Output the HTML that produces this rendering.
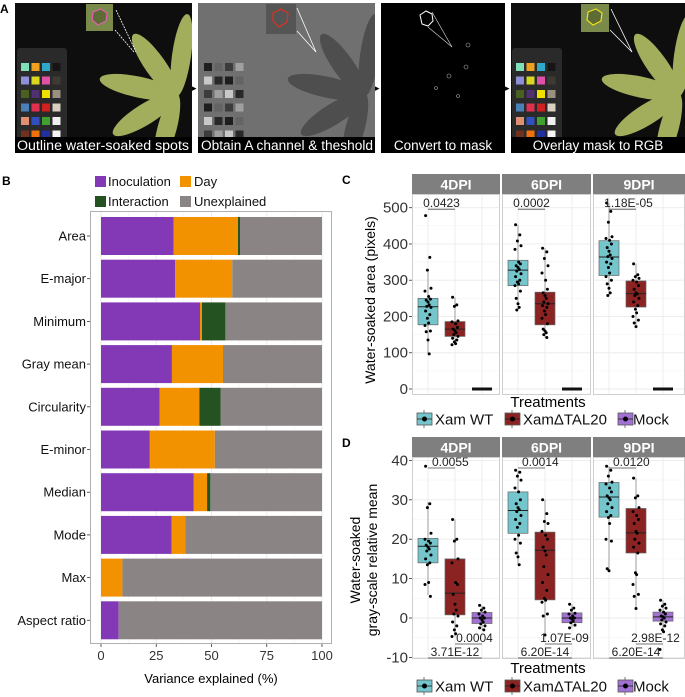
<!DOCTYPE html>
<html><head><meta charset="utf-8">
<style>
html,body{margin:0;padding:0;background:#fff;}
svg{display:block;font-family:"Liberation Sans",sans-serif;}
</style></head>
<body>
<svg id="fig" width="685" height="697" viewBox="0 0 685 697" xmlns="http://www.w3.org/2000/svg">
<defs>
  <clipPath id="c1"><rect x="15" y="3" width="177" height="150"/></clipPath>
  <clipPath id="c2"><rect x="198" y="3" width="177" height="150"/></clipPath>
  <clipPath id="c4"><rect x="511" y="3" width="174" height="150"/></clipPath>
  <g id="leaf">
    <ellipse cx="0" cy="-42" rx="10" ry="44" transform="rotate(8)"/>
    <ellipse cx="0" cy="-38" rx="11" ry="40" transform="rotate(-35)"/>
    <ellipse cx="0" cy="-40" rx="11" ry="42" transform="rotate(-78)"/>
    <ellipse cx="0" cy="-38" rx="11" ry="40" transform="rotate(-122)"/>
    <ellipse cx="0" cy="-36" rx="10" ry="38" transform="rotate(-165)"/>
  </g>
</defs>
<g id="panelA">
  <text x="0" y="13" font-size="12" font-weight="bold">A</text>
  <g clip-path="url(#c1)">
    <rect x="15" y="3" width="177" height="150" fill="#0e0e0e"/>
    <rect x="17" y="48" width="50" height="103" rx="3" fill="#2a2a2a"/>
    <g id="checker1"></g>
    <use href="#leaf" transform="translate(176,95) scale(0.95)" fill="#a3ae5c"/>
    <rect x="86" y="4" width="27" height="27" fill="#7a8a4a"/>
    <path d="M93 12 l8 -3 l6 4 l-1 8 l-8 4 l-6 -5z" fill="#5d6b35" stroke="#e060b0" stroke-width="1.2"/>
    <line x1="116" y1="10" x2="136" y2="52" stroke="#fff" stroke-width="0.8" stroke-dasharray="2,1"/>
    <line x1="115" y1="30" x2="134" y2="52" stroke="#fff" stroke-width="0.8" stroke-dasharray="2,1"/>
    <rect x="15" y="137" width="177" height="16" fill="#000"/>
    <text x="103" y="150" font-size="13.5" fill="#fff" text-anchor="middle" textLength="172" lengthAdjust="spacingAndGlyphs">Outline water-soaked spots</text>
  </g>
  <text x="192" y="91" font-size="9">▸</text>
  <g clip-path="url(#c2)">
    <rect x="198" y="3" width="177" height="150" fill="#707070"/>
    <g id="checker2"></g>
    <use href="#leaf" transform="translate(364,95) scale(0.95)" fill="#4e4e4e"/>
    <rect x="266" y="4" width="30" height="30" fill="#555"/>
    <path d="M273 13 l8 -4 l7 4 l-1 9 l-8 5 l-6 -6z" fill="none" stroke="#e03020" stroke-width="1.2"/>
    <line x1="297" y1="8" x2="316" y2="52" stroke="#fff" stroke-width="0.8"/>
    <line x1="297" y1="31" x2="316" y2="52" stroke="#fff" stroke-width="0.8"/>
    <rect x="198" y="137" width="177" height="16" fill="#000"/>
    <text x="287" y="150" font-size="13.5" fill="#fff" text-anchor="middle" textLength="172" lengthAdjust="spacingAndGlyphs">Obtain A channel &amp; theshold</text>
  </g>
  <text x="375" y="91" font-size="9">▸</text>
  <g>
    <rect x="381" y="3" width="124" height="150" fill="#000"/>
    <path d="M420 15 l6 -4 l6 3 l1 7 l-5 5 l-6 -2z" fill="none" stroke="#fff" stroke-width="1"/>
    <line x1="432" y1="12" x2="452" y2="47" stroke="#ccc" stroke-width="0.7"/>
    <line x1="428" y1="27" x2="452" y2="47" stroke="#ccc" stroke-width="0.7"/>
    <circle cx="468" cy="45" r="2" fill="none" stroke="#aaa" stroke-width="0.6"/>
    <circle cx="449" cy="76" r="2" fill="none" stroke="#aaa" stroke-width="0.6"/>
    <circle cx="466" cy="67" r="2" fill="none" stroke="#aaa" stroke-width="0.6"/>
    <circle cx="436" cy="88" r="1.5" fill="none" stroke="#aaa" stroke-width="0.6"/>
    <circle cx="458" cy="96" r="1.5" fill="none" stroke="#aaa" stroke-width="0.6"/>
    <rect x="381" y="137" width="124" height="16" fill="#000"/>
    <text x="443" y="150" font-size="13.5" fill="#fff" text-anchor="middle">Convert to mask</text>
  </g>
  <text x="505" y="91" font-size="9">▸</text>
  <g clip-path="url(#c4)">
    <rect x="511" y="3" width="174" height="150" fill="#0e0e0e"/>
    <rect x="512" y="48" width="50" height="103" rx="3" fill="#2a2a2a"/>
    <g id="checker4"></g>
    <use href="#leaf" transform="translate(678,95) scale(0.95)" fill="#a3ae5c"/>
    <rect x="581" y="4" width="28" height="28" fill="#7a8a4a"/>
    <path d="M588 12 l8 -3 l6 4 l-1 8 l-8 4 l-6 -5z" fill="#5d6b35" stroke="#f0e020" stroke-width="1.2"/>
    <line x1="611" y1="9" x2="632" y2="52" stroke="#fff" stroke-width="0.8"/>
    <line x1="610" y1="30" x2="632" y2="52" stroke="#fff" stroke-width="0.8"/>
    <rect x="511" y="137" width="174" height="16" fill="#000"/>
    <text x="598" y="150" font-size="13.5" fill="#fff" text-anchor="middle">Overlay mask to RGB</text>
  </g>
</g>

<g id="panelB">
  <text x="2" y="185" font-size="12" font-weight="bold">B</text>
  <g id="legendB"></g>
  <rect x="90.5" y="211.5" width="241" height="432" fill="#fff" stroke="#b0b0b0"/>
  <g id="gridB"></g>
  <g id="barsB"></g>
  <g id="axesB"></g>
  <text x="211" y="683" font-size="13" text-anchor="middle">Variance explained (%)</text>
</g>

<g id="panelC">
  <text x="342" y="184" font-size="12" font-weight="bold">C</text>
  <text transform="translate(375,300) rotate(-90)" font-size="14" text-anchor="middle">Water-soaked area (pixels)</text>
  <g id="plotC"></g>
  <text x="548" y="407" font-size="15" text-anchor="middle">Treatments</text>
  <g id="legendC"></g>
</g>

<g id="panelD">
  <text x="342" y="447" font-size="12" font-weight="bold">D</text>
  <text transform="translate(360,560) rotate(-90)" font-size="14" text-anchor="middle">Water-soaked</text>
  <text transform="translate(377,560) rotate(-90)" font-size="14" text-anchor="middle">gray-scale relative mean</text>
  <g id="plotD"></g>
  <text x="548" y="673" font-size="15" text-anchor="middle">Treatments</text>
  <g id="legendD"></g>
</g>
</svg>

<script>
const traitNames = ["Area","E-major","Minimum","Gray mean","Circularity","E-minor","Median","Mode","Max","Aspect ratio"];
const inoculationPct = [32.9,33.5,44.8,32.1,26.5,22.1,42,32,0,8];
const dayPct        = [29.1,25.9,0.9,23.1,18,29.4,6,6.2,9.7,0];
const interactionPct= [0.9,0,10.6,0,9.7,0,1.5,0,0,0];
const xTicksB = [0,25,50,75,100];
const legendBLabels = ["Inoculation","Day","Interaction","Unexplained"];

const dpiLabels = ["4DPI","6DPI","9DPI"];
const treatmentLabels = ["Xam WT","XamΔTAL20","Mock"];
const yTicksC = [0,100,200,300,400,500];
const boxC_WT   = [[177,227,250,97,328],[285,328,355,218,453],[313,364,409,258,513]];
const boxC_TAL  = [[145,165,186,122,253],[177,235,267,142,388],[226,263,298,172,345]];
const boxC_Mock = [[0,0,0,0,0],[0,0,0,0,0],[0,0,0,0,0]];
const ptsC_WT = [
 [478,363,328,278,270,255,248,245,240,232,228,225,215,205,195,182,175,160,158,135,97],
 [453,425,408,395,385,350,345,340,335,330,325,318,310,300,295,290,285,270,250,235,225,218],
 [513,490,460,420,415,410,400,390,380,370,365,360,350,345,335,320,310,300,290,278,265,258]];
const ptsC_TAL = [
 [253,232,228,188,185,180,170,165,160,155,150,145,140,135,130,125,122],
 [388,378,360,340,320,300,275,265,258,250,240,235,230,225,215,205,195,180,165,160,155,150,142],
 [345,315,310,305,300,295,285,275,265,262,258,250,240,230,220,210,200,190,182,172]];
const ptsC_Mock = [[0,0,0,0,0,0,0,0,0,0,0,0,0,0],[0,0,0,0,0,0,0,0,0,0,0,0,0,0],[0,0,0,0,0,0,0,0,0,0,0,0,0,0]];
const pvalC = ["0.0423","0.0002","1.18E-05"];
const pvalCy = [500,500,500];

const yTicksD = [-10,0,10,20,30,40];
const boxD_WT   = [[14,18.2,20.2,5.8,29.4],[21.5,27.3,32,13.5,37.5],[25.6,30.7,34.4,12.5,38.5]];
const boxD_TAL  = [[0.8,6.3,15,-4.7,25],[4.6,17.2,21.8,-4.3,30],[16.5,21.6,27.8,2.4,35.5]];
const boxD_Mock = [[-1.4,0,1.4,-3,3.2],[-1.2,0,1.3,-2.5,3.5],[-0.8,0.3,1.5,-3.5,4.5]];
const ptsD_WT = [
 [38.5,29,28,21.5,20,19.5,19,18.5,18,17.5,17,16,15,14,13.5,9,8.5,5.5],
 [37.5,37,36,35,33,32,30,29,28,27.5,27,26,25,24,23,21,20,19,16.5,15.5,13.5],
 [38.5,37.5,36,34.5,34,33,32,31,30.5,30,29,28,27,26,25.5,24,20,19.5,12.5,12]];
const ptsD_TAL = [
 [25,20,19.5,15,14,9,8.5,6,3.5,2,1,0.5,-1,-2,-3,-4,-4.7],
 [30,26.5,24.5,24,22,21,20,18,17,16,13,11,9,7,5,4.5,4,1,0.5,-4.3],
 [35.5,31,30.5,28,27,26,25,24,22,21.5,20,19,18,16.5,11.5,11,8.5,6,5.5,2.4]];
const ptsD_Mock = [
 [3.2,2.5,2,1.5,1,0.5,0,0,-0.5,-1,-1.5,-2,-2.5,-3],
 [3.5,2.5,2,1.2,1,0.5,0,0,-0.3,-0.8,-1.2,-1.8,-2.5],
 [4.5,3.5,3,2.5,2,1.5,1,0.5,0.3,0,-0.5,-1,-1.5,-2,-3,-3.5,-8]];
const pvalD_WT_TAL  = ["0.0055","0.0014","0.0120"];
const pvalD_TAL_Mock= ["0.0004","1.07E-09","2.98E-12"];
const pvalD_WT_Mock = ["3.71E-12","6.20E-14","6.20E-14"];

const NS="http://www.w3.org/2000/svg";
function mk(parent,tag,attrs){const e=document.createElementNS(NS,tag);for(const k in attrs)e.setAttribute(k,attrs[k]);parent.appendChild(e);return e;}
function txt(parent,x,y,s,size,extra){const t=mk(parent,"text",Object.assign({x:x,y:y,"font-size":size},extra||{}));t.textContent=s;return t;}

const checkerCols=[["#7fe0b8","#f0a020","#30a8c8","#151515"],["#8f8fd8","#d8d820","#e050a8","#403a35"],["#4a6020","#503070","#f0e000","#9a9080"],["#4a80b8","#e03050","#d02020","#d8d0c0"],["#e09070","#3050c0","#40a030","#f0f0f0"],["#703020","#f07010","#2030a0","#f4f4f4"]];
function checker(id,x0,gray){const g=document.getElementById(id);
  for(let r=0;r<6;r++)for(let c=0;c<4;c++){let col=checkerCols[r][c];
    if(gray){const v=[30,100,60,160,200,40][ (r*4+c)%6 ];col="rgb("+v+","+v+","+v+")";}
    mk(g,"rect",{x:x0+c*10.5,y:63+r*13.5,width:8,height:8,fill:col});}}
checker("checker1",21,false);checker("checker4",516,false);checker("checker2",204,true);

const xB=v=>101+v*2.21;
const barColors=["#8339b5","#f39200","#245221","#8a8584"];
(function(){
  const grid=document.getElementById("gridB");
  [12.5,37.5,62.5,87.5].forEach(v=>mk(grid,"line",{x1:xB(v),x2:xB(v),y1:212,y2:643,stroke:"#f2f2f2","stroke-width":0.6}));
  xTicksB.forEach(v=>mk(grid,"line",{x1:xB(v),x2:xB(v),y1:212,y2:643,stroke:"#ebebeb","stroke-width":1}));
  const bars=document.getElementById("barsB");
  const axes=document.getElementById("axesB");
  traitNames.forEach((name,i)=>{
    const cy=236+i*42.7, h=38, y=cy-h/2;
    const vals=[inoculationPct[i],dayPct[i],interactionPct[i]];
    vals.push(100-vals[0]-vals[1]-vals[2]);
    let acc=0;
    vals.forEach((v,k)=>{ if(v<=0){return;}
      const r=mk(bars,"rect",{x:xB(acc),y:y,width:xB(acc+v)-xB(acc),height:h,fill:barColors[k]});
      
      
      acc+=v;});
    mk(axes,"line",{x1:87,x2:90,y1:cy,y2:cy,stroke:"#333","stroke-width":0.8});
    const t=txt(axes,86,cy+4.5,name,13,{"text-anchor":"end",fill:"#111"});
    
    
  });
  xTicksB.forEach(v=>{
    mk(axes,"line",{x1:xB(v),x2:xB(v),y1:644,y2:647,stroke:"#333","stroke-width":0.8});
    const t=txt(axes,xB(v),660,String(v),13,{"text-anchor":"middle",fill:"#333"});
    
    
  });
  const lg=document.getElementById("legendB");
  const pos=[[95,108,187],[180,194,187],[95,108,207],[180,194,207]];
  legendBLabels.forEach((l,k)=>{
    const [sx,tx,ty]=pos[k];
    mk(lg,"rect",{x:sx,y:ty-11,width:11,height:11,fill:barColors[k]});
    const t=txt(lg,tx,ty-1,l,13,{fill:"#111"});
    
    
  });
})();

const panelX=[412,502,593], panelW=[88,89,92];
const catOff=[16,43,70];
const boxFill=["#74c5cc","#8b2323","#a271d4"];
const jit=[-4,3,-1,5,-5,1,4,-3,0,2,-2,5,-4,3,-1,1,-5,4,-3,0,2,-2,3];

function boxPanel(gid,top,bottom,yf,ticks,minors,boxes,pts,flatMock){
  const g=document.getElementById(gid);
  for(let p=0;p<3;p++){
    const px=panelX[p],pw=panelW[p];
    const strip=mk(g,"rect",{x:px,y:top,width:pw,height:20,fill:"#7f7f7f"});
    
    
    txt(g,px+pw/2,top+15.5,dpiLabels[p],14,{"text-anchor":"middle",fill:"#fff","font-weight":"bold"});
    mk(g,"rect",{x:px+0.5,y:top+20.5,width:pw-1,height:bottom-top-21,fill:"#fff",stroke:"#cfcfcf","stroke-width":1});
    minors.forEach(v=>mk(g,"line",{x1:px+1,x2:px+pw-1,y1:yf(v),y2:yf(v),stroke:"#f4f4f4","stroke-width":0.6}));
    ticks.forEach(v=>mk(g,"line",{x1:px+1,x2:px+pw-1,y1:yf(v),y2:yf(v),stroke:"#ebebeb","stroke-width":0.9}));
    catOff.forEach(o=>mk(g,"line",{x1:px+o,x2:px+o,y1:top+21,y2:bottom-1,stroke:"#ebebeb","stroke-width":0.9}));
    for(let t=0;t<3;t++){
      const cx=px+catOff[t], b=boxes[t][p];
      const grp=mk(g,"g",{});
      
      
      if(flatMock&&t===2){
        mk(grp,"line",{x1:cx-10,x2:cx+10,y1:yf(b[1]),y2:yf(b[1]),stroke:"#111","stroke-width":3});
        continue;
      }
      mk(grp,"line",{x1:cx,x2:cx,y1:yf(b[3]),y2:yf(b[4]),stroke:"#888","stroke-width":0.8});
      mk(grp,"rect",{x:cx-10,y:yf(b[2]),width:20,height:yf(b[0])-yf(b[2]),fill:boxFill[t],stroke:"#666","stroke-width":0.7});
      mk(grp,"line",{x1:cx-10,x2:cx+10,y1:yf(b[1]),y2:yf(b[1]),stroke:"#222","stroke-width":1});
      pts[t][p].forEach((v,k)=>{
        mk(grp,"circle",{cx:cx+jit[k%jit.length]*0.6,cy:yf(v),r:1.5,fill:"#000"});
      });
    }
  }
  ticks.forEach(v=>{
    const t=txt(g,408,yf(v)+5,String(v),15,{"text-anchor":"end",fill:"#333"});
    
    
    mk(g,"line",{x1:409,x2:412,y1:yf(v),y2:yf(v),stroke:"#333","stroke-width":0.8});
  });
}
function sig(g,x1,x2,y,label,tx,anchor){
  mk(g,"line",{x1:x1,x2:x2,y1:y,y2:y,stroke:"#444","stroke-width":0.8});
  const t=txt(g,tx,y-2,label,12,{"text-anchor":anchor||"middle",fill:"#222"});
  
  
}
function legend(gid,y){
  const g=document.getElementById(gid);
  const keys=[[417,435],[505,523],[618,633]];
  treatmentLabels.forEach((l,k)=>{
    const [kx,tx]=keys[k];
    const grp=mk(g,"g",{});
    
    
    mk(grp,"line",{x1:kx+7,x2:kx+7,y1:y-9,y2:y+9,stroke:"#555","stroke-width":0.8});
    mk(grp,"rect",{x:kx,y:y-6,width:15,height:12,fill:boxFill[k],stroke:"#555","stroke-width":0.8});
    mk(grp,"line",{x1:kx,x2:kx+15,y1:y,y2:y,stroke:"#222","stroke-width":0.8});
    mk(grp,"circle",{cx:kx+7.5,cy:y,r:2.5,fill:"#000"});
    txt(grp,tx,y+5.5,l,15,{fill:"#111"});
  });
}

const yC=v=>389-v*0.3626;
boxPanel("plotC",174,395,yC,yTicksC,[50,150,250,350,450],[boxC_WT,boxC_TAL,boxC_Mock],[ptsC_WT,ptsC_TAL,ptsC_Mock],true);
(function(){const g=document.getElementById("plotC");
  for(let p=0;p<3;p++){const px=panelX[p];
    sig(g,px+catOff[0],px+catOff[1],yC(pvalCy[p])+1.5,pvalC[p],px+(catOff[0]+catOff[1])/2+(p===2?6:0));}
})();
legend("legendC",419);

const yD=v=>618-v*3.94;
boxPanel("plotD",437,659,yD,yTicksD,[-5,5,15,25,35],[boxD_WT,boxD_TAL,boxD_Mock],[ptsD_WT,ptsD_TAL,ptsD_Mock],false);
(function(){const g=document.getElementById("plotD");
  for(let p=0;p<3;p++){const px=panelX[p];
    sig(g,px+catOff[0],px+catOff[1],468,pvalD_WT_TAL[p],px+catOff[0]+4,"start");
    sig(g,px+catOff[1],px+catOff[2],644,pvalD_TAL_Mock[p],px+catOff[1]+(catOff[2]-catOff[1])/2+6);
    sig(g,px+catOff[0],px+catOff[2],658,pvalD_WT_Mock[p],px+(catOff[0]+catOff[2])/2);
  }
})();
legend("legendD",686);
</script>
</body></html>
